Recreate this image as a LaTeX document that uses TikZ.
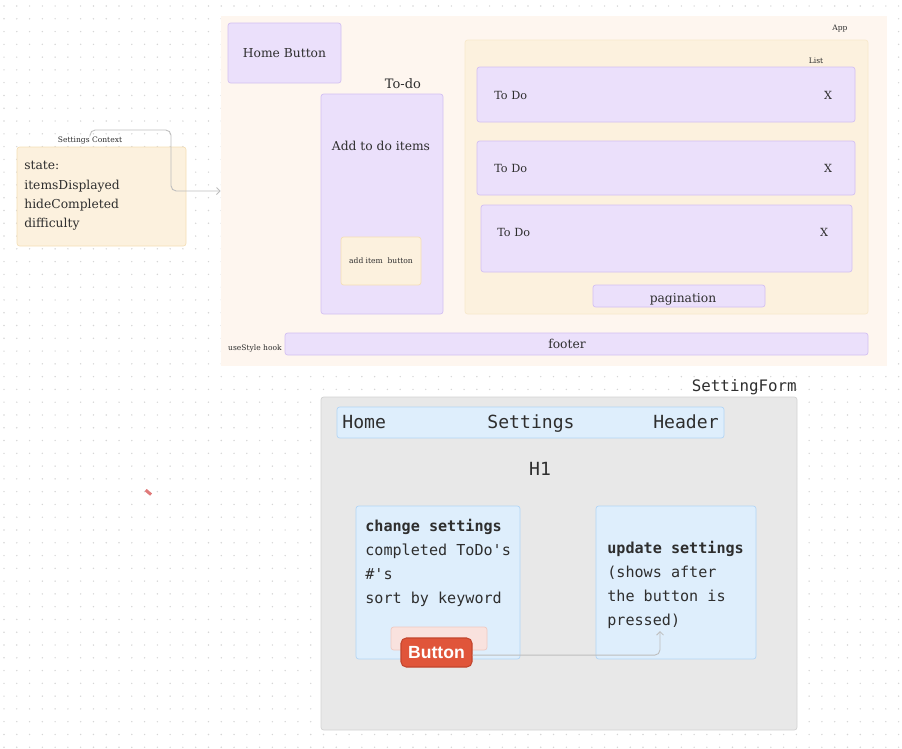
\documentclass[tikz,border=0pt]{standalone}
\usepackage{fontspec}
\setmainfont{DejaVu Serif}
\setmonofont{DejaVu Sans Mono}
\newfontfamily\btnfont{Liberation Sans}
\usetikzlibrary{arrows.meta,fit,positioning}

\definecolor{dotgray}{HTML}{D6D6D6}
\definecolor{ink}{HTML}{2E2E2E}
\definecolor{appfill}{HTML}{FEF6EF}
\definecolor{lavfill}{HTML}{EBE0FB}
\definecolor{lavline}{HTML}{D3C0F2}
\definecolor{creamfill}{HTML}{FCF1DE}
\definecolor{creamline}{HTML}{F5DFB6}
\definecolor{formfill}{HTML}{E8E8E8}
\definecolor{formline}{HTML}{D2D2D2}
\definecolor{bluefill}{HTML}{DEEEFC}
\definecolor{blueline}{HTML}{B2D5F6}
\definecolor{pinkfill}{HTML}{F9E2DE}
\definecolor{pinkline}{HTML}{EFC9C1}
\definecolor{btnfill}{HTML}{E0553A}
\definecolor{btnline}{HTML}{C2452D}
\definecolor{wire}{HTML}{BDBDBD}
\definecolor{pencil}{HTML}{E07A7A}

\begin{document}
\begin{tikzpicture}[x=0.02cm,y=-0.02cm,>=Stealth,
    every node/.style={text=ink},
    box/.style={draw,rounded corners=1.5pt,inner sep=0pt,line width=.4pt},
    lavbox/.style={box,fill=lavfill,draw=lavline},
    creambox/.style={box,fill=creamfill,draw=creamline},
    bluebox/.style={box,fill=bluefill,draw=blueline},
    serif/.style={font=\fontsize{7}{11}\selectfont},
    small/.style={font=\fontsize{6.4}{8}\selectfont},
    tiny/.style={font=\fontsize{4.3}{5}\selectfont,inner sep=1pt},
    mono/.style={font=\fontsize{8.6}{13.6}\selectfont\ttfamily},
    bigmono/.style={font=\fontsize{10.3}{12}\selectfont\ttfamily},
    wireline/.style={draw=wire,line width=.5pt,rounded corners=3pt}]

\useasboundingbox (0,0) rectangle (902,748);

% dotted canvas
\foreach \i in {0,...,70}
  \foreach \j in {0,...,58}
    \fill[dotgray] (4+\i*12.78,6+\j*12.78) circle (0.8);

% App
\node[fill=appfill,inner sep=0pt,fit={(221,16) (887,366)}] (app) {};
\node[tiny] (applbl) at (840,29) {App};

\node[lavbox,fit={(228,23) (341,83)},label={[serif]center:Home Button}] (home) {};

\node[serif,font=\fontsize{7.4}{9}\selectfont] (todolbl) at (403,84) {To-do};
\node[lavbox,fit={(321,94) (443,314)}] (todo) {};
\node[serif] (addtxt) at (381,146) {Add to do items};
\node[creambox,fit={(341,237) (421,285)},label={[tiny]center:add item\ \ button}] (additem) {};

% List
\node[creambox,draw=creamline!70,fit={(465,40) (868,314)}] (list) {};
\node[tiny] (listlbl) at (816,61) {List};
\node[lavbox,fit={(477,67) (855,122)}] (row1) {};
\node[lavbox,fit={(477,141) (855,195)}] (row2) {};
\node[lavbox,fit={(481,205) (852,272)}] (row3) {};
\node[small,anchor=west,inner sep=0pt] (t1) at (494,95) {To Do};
\node[small] (x1) at (828,95) {X};
\node[small,anchor=west,inner sep=0pt] (t2) at (494,168) {To Do};
\node[small] (x2) at (828,168) {X};
\node[small,anchor=west,inner sep=0pt] (t3) at (497,232) {To Do};
\node[small] (x3) at (824,232) {X};
\node[lavbox,fit={(593,285) (765,307)}] (pages) {};
\node[serif,anchor=base,inner sep=0pt] (pagestxt) at (683,302) {pagination};

\node[lavbox,fit={(285,333) (868,355)}] (footer) {};
\node[serif] (footertxt) at (567,344) {footer};
\node[tiny] (hooklbl) at (255,348) {useStyle hook};

% Settings context
\node[tiny] (ctxlbl) at (90,141) {Settings Context};
\node[creambox,fit={(17,147) (186,246)}] (ctx) {};
\node[serif,anchor=north west,align=left,inner sep=0pt] (state) at (24,161)
  {state:\\itemsDisplayed\\hideCompleted\\difficulty};
\draw[wireline,-{Straight Barb[length=2pt,width=4pt]}] (ctxlbl.north) |- (171,130) |- (app.west);

% pencil mark
\fill[pencil,rotate around={-40:(148,492)}] (145,490.5) rectangle (152,493.5);

% SettingForm
\node[font=\fontsize{9}{10}\selectfont\ttfamily,anchor=base east,inner sep=0pt] (formlbl) at (797,391) {SettingForm};
\node[box,fill=formfill,draw=formline,fit={(321,397) (797,730)}] (form) {};
\node[bluebox,fit={(337,407) (724,438)}] (header) {};
\node[bigmono,anchor=base west,inner sep=0pt] (hhome) at (342,428) {Home};
\node[bigmono,anchor=base,inner sep=0pt] (hset) at (531,428) {Settings};
\node[bigmono,anchor=base east,inner sep=0pt] (hhead) at (719,428) {Header};
\node[bigmono,anchor=base,inner sep=0pt] (h1) at (540,475) {H1};

\node[bluebox,fit={(356,506) (520,659)}] (change) {};
\node[bluebox,fit={(596,506) (756,659)}] (update) {};
\node[mono,anchor=north west,align=left,inner sep=0pt] (changetxt) at (365,519)
  {\textbf{change settings}\\completed ToDo's\\\#'s\\sort by keyword};
\node[mono,anchor=north west,align=left,inner sep=0pt] (updatetxt) at (607,541)
  {\textbf{update settings}\\(shows after\\the button is\\pressed)};

\node[box,fill=pinkfill,draw=pinkline,fit={(391,627) (487,650)}] (btnback) {};
\node[box,rounded corners=3pt,fill=btnfill,draw=btnline,line width=.6pt,fit={(401,638) (472,667)},
  label={[font=\fontsize{10}{12}\selectfont\btnfont\bfseries,text=white]center:Button}] (btn) {};
\coordinate (updin) at (660,631);
\draw[wireline,-{Straight Barb[length=2pt,width=4pt]}] ([yshift=-1.5pt]btn.east) -| (updin);

\end{tikzpicture}
\end{document}
